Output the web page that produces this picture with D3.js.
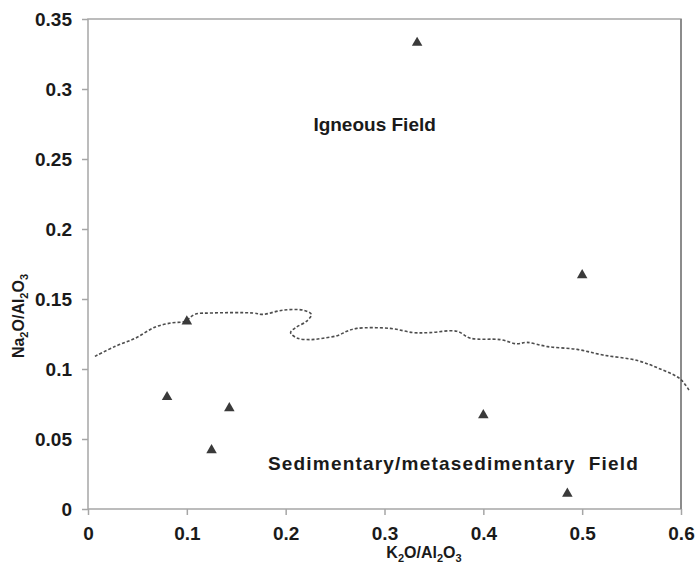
<!DOCTYPE html>
<html>
<head>
<meta charset="utf-8">
<script src="https://cdn.jsdelivr.net/npm/d3@7"></script>
<style>
  body { margin: 0; background: #fff; }
  svg text { font-family: "Liberation Sans", Arial, sans-serif; font-weight: bold; fill: #1a1a1a; }
</style>
</head>
<body>
<svg id="chart" width="696" height="568"></svg>
<script>
// sample points (K2O/Al2O3, Na2O/Al2O3)
var k2o  = [0.333, 0.5,   0.1,   0.08, 0.143, 0.125, 0.4,   0.485];
var na2o = [0.333, 0.167, 0.134, 0.08, 0.072, 0.042, 0.067, 0.011];

// dashed igneous / sedimentary boundary
var bx = [0.007, 0.027, 0.048, 0.068, 0.085, 0.098, 0.108, 0.126, 0.167, 0.177, 0.197, 0.218,
          0.226, 0.221, 0.211, 0.205, 0.212, 0.225, 0.238, 0.253, 0.262, 0.272, 0.306, 0.329,
          0.346, 0.373, 0.387, 0.417, 0.434, 0.444, 0.465, 0.495, 0.521, 0.556, 0.579, 0.599, 0.609];
var by = [0.109, 0.116, 0.122, 0.130, 0.133, 0.134, 0.139, 0.140, 0.140, 0.139, 0.142, 0.142,
          0.139, 0.134, 0.130, 0.126, 0.122, 0.121, 0.122, 0.124, 0.127, 0.129, 0.129, 0.126,
          0.126, 0.127, 0.122, 0.121, 0.118, 0.119, 0.116, 0.114, 0.110, 0.106, 0.100, 0.093, 0.084];

var xTicks = [0, 0.1, 0.2, 0.3, 0.4, 0.5, 0.6];
var yTicks = [0, 0.05, 0.1, 0.15, 0.2, 0.25, 0.3, 0.35];

var svg = d3.select('#chart');
var margin = {top: 19, right: 15, bottom: 59, left: 88},
    width  = +svg.attr('width')  - margin.left - margin.right,
    height = +svg.attr('height') - margin.top  - margin.bottom;

var x = d3.scaleLinear().domain([0, 0.6]).range([0, width]),
    y = d3.scaleLinear().domain([0, 0.35]).range([height, 0]);

var g = svg.append('g')
           .attr('transform', 'translate(' + margin.left + ',' + margin.top + ')');

// frame
g.append('rect')
 .attr('x', 0).attr('y', 0)
 .attr('width', width).attr('height', height)
 .attr('fill', 'none')
 .attr('stroke', '#a6a6a6')
 .attr('stroke-width', 1.5);
g.append('line')
 .attr('x1', width).attr('x2', width).attr('y1', 0).attr('y2', height)
 .attr('stroke', '#8c8c8c').attr('stroke-width', 2);

var fmt = function (d) { return d3.format('~g')(d); };
var xAxis = g.append('g')
   .attr('transform', 'translate(0,' + height + ')')
   .call(d3.axisBottom(x).tickValues(xTicks).tickSize(6).tickFormat(fmt));
var yAxis = g.append('g')
   .call(d3.axisLeft(y).tickValues(yTicks).tickSize(6).tickPadding(10).tickFormat(fmt));

[xAxis, yAxis].forEach(function (a) {
    a.select('.domain').remove();
    a.selectAll('line').attr('stroke', '#a6a6a6').attr('stroke-width', 1.5);
    a.selectAll('text').attr('font-size', 19).attr('fill', '#1a1a1a')
     .attr('font-family', '"Liberation Sans", Arial, sans-serif').attr('font-weight', 'bold');
});
xAxis.selectAll('text').attr('y', 31).attr('dy', null);

// boundary
var line = d3.line()
             .x(function (d) { return x(d[0]); })
             .y(function (d) { return y(d[1]); })
             .curve(d3.curveCatmullRom.alpha(0.5));
g.append('path')
 .datum(d3.zip(bx, by))
 .attr('d', line)
 .attr('fill', 'none')
 .attr('stroke', '#4d4d4d')
 .attr('stroke-width', 1.6)
 .attr('stroke-dasharray', '3,2');

// points
var tri = d3.symbol().type(d3.symbolTriangle).size(48);
g.selectAll('path.pt')
 .data(d3.zip(k2o, na2o))
 .enter().append('path')
   .attr('class', 'pt')
   .attr('d', tri)
   .attr('fill', '#3a3a3a')
   .attr('transform', function (d) { return 'translate(' + x(d[0]) + ',' + y(d[1]) + ')'; });

// field labels
g.append('text')
 .attr('x', x(0.29)).attr('y', y(0.270))
 .attr('text-anchor', 'middle')
 .attr('font-size', 19)
 .text('Igneous Field');
g.append('text')
 .attr('x', x(0.182)).attr('y', y(0.028))
 .attr('font-size', 19)
 .attr('textLength', 370)
 .attr('lengthAdjust', 'spacing')
 .style('white-space', 'pre')
 .text('Sedimentary/metasedimentary  Field');

// axis titles with subscripts
var xt = svg.append('text')
   .attr('x', 424).attr('y', 558)
   .attr('text-anchor', 'middle')
   .attr('font-size', 16);
xt.append('tspan').text('K');
xt.append('tspan').attr('dy', 4).attr('font-size', 11).text('2');
xt.append('tspan').attr('dy', -4).text('O/Al');
xt.append('tspan').attr('dy', 4).attr('font-size', 11).text('2');
xt.append('tspan').attr('dy', -4).text('O');
xt.append('tspan').attr('dy', 4).attr('font-size', 11).text('3');

var yt = svg.append('text')
   .attr('transform', 'translate(24,316) rotate(-90)')
   .attr('text-anchor', 'middle')
   .attr('font-size', 16);
yt.append('tspan').text('Na');
yt.append('tspan').attr('dy', 4).attr('font-size', 11).text('2');
yt.append('tspan').attr('dy', -4).text('O/Al');
yt.append('tspan').attr('dy', 4).attr('font-size', 11).text('2');
yt.append('tspan').attr('dy', -4).text('O');
yt.append('tspan').attr('dy', 4).attr('font-size', 11).text('3');
</script>
</body>
</html>
